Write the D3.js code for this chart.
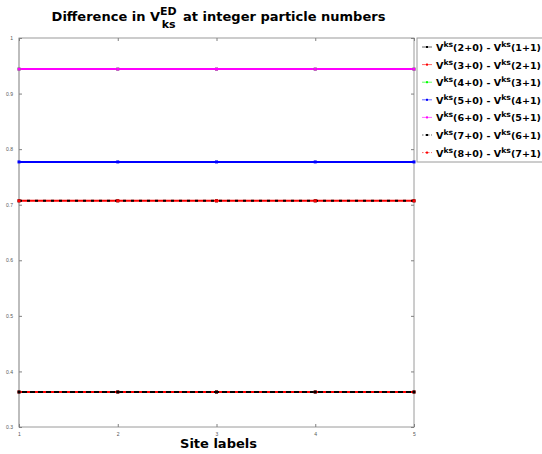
<!DOCTYPE html>
<html>
<head>
<meta charset="utf-8">
<script src="https://cdn.jsdelivr.net/npm/d3@7"></script>
<style>
  body { margin: 0; background: #fff; }
  svg { display: block; font-family: "DejaVu Sans", sans-serif; }
</style>
</head>
<body>
<div id="chart"></div>
<script>
// Site labels along x, one value per curve (flat lines across all sites)
var sites = [1, 2, 3, 4, 5];
var xTicks = [1, 2, 3, 4, 5];
var yTicks = [0.3, 0.4, 0.5, 0.6, 0.7, 0.8, 0.9, 1];
var seriesNames = ["(2+0)|(1+1)", "(3+0)|(2+1)", "(4+0)|(3+1)", "(5+0)|(4+1)",
                   "(6+0)|(5+1)", "(7+0)|(6+1)", "(8+0)|(7+1)"];
var seriesLevels = [0.363, 0.707, 0.944, 0.777, 0.944, 0.707, 0.363];
var seriesColors = ["#000000", "#ff0000", "#00ff00", "#0000ff", "#ff00ff", "#000000", "#ff0000"];
var seriesDashed = [false, false, false, false, false, true, true];

var width = 542, height = 454;
var margin = { top: 38, right: 128, bottom: 27, left: 19 };

var svg = d3.select("#chart").append("svg")
    .attr("width", width)
    .attr("height", height);

var x = d3.scaleLinear().domain([1, 5]).range([margin.left, width - margin.right]);
var y = d3.scaleLinear().domain([0.3, 1]).range([height - margin.bottom, margin.top]);

var x0 = x.range()[0], x1 = x.range()[1];
var y0 = y.range()[0], y1 = y.range()[1];

// frame
svg.append("rect")
    .attr("x", x0).attr("y", y1)
    .attr("width", x1 - x0).attr("height", y0 - y1)
    .attr("fill", "none").attr("stroke", "#9a9a9a").attr("stroke-width", 1);
svg.append("line")
    .attr("x1", x0).attr("x2", x0).attr("y1", y1).attr("y2", y0)
    .attr("stroke", "#bdbdbd").attr("stroke-width", 2);

// axes with inward ticks (bottom/left labelled, top/right mirrored)
function styleAxis(g) {
    g.select(".domain").remove();
    g.selectAll(".tick line").attr("stroke", "#808080");
    g.selectAll(".tick text").attr("fill", "#555").style("font-size", "5px");
}
svg.append("g")
    .attr("transform", "translate(0," + y0 + ")")
    .call(d3.axisBottom(x).tickValues(xTicks).tickFormat(d3.format("d")).tickSizeInner(-3).tickPadding(5))
    .call(styleAxis);
svg.append("g")
    .attr("transform", "translate(0," + y1 + ")")
    .call(d3.axisTop(x).tickValues(xTicks).tickFormat("").tickSizeInner(-3))
    .call(styleAxis);
svg.append("g")
    .attr("transform", "translate(" + x0 + ",0)")
    .call(d3.axisLeft(y).tickValues(yTicks).tickFormat(function (d) { return d === 1 ? "1" : d3.format(".1f")(d); }).tickSizeInner(-3).tickPadding(6))
    .call(styleAxis);
svg.append("g")
    .attr("transform", "translate(" + x1 + ",0)")
    .call(d3.axisRight(y).tickValues(yTicks).tickFormat("").tickSizeInner(-3))
    .call(styleAxis);

// series lines first, then markers (dashed series' markers underneath)
var line = d3.line().x(function (d) { return x(d.x); }).y(function (d) { return y(d.y); });
var allPts = seriesLevels.map(function (v) {
    return sites.map(function (s) { return { x: s, y: v }; });
});
allPts.forEach(function (pts, i) {
    svg.append("path")
        .datum(pts)
        .attr("d", line)
        .attr("fill", "none")
        .attr("stroke", seriesColors[i])
        .attr("stroke-width", 2)
        .attr("stroke-dasharray", seriesDashed[i] ? "3,5" : null);
});
var markerOrder = d3.range(allPts.length).sort(function (a, b) {
    return (seriesDashed[b] ? 1 : 0) - (seriesDashed[a] ? 1 : 0) || a - b;
});
markerOrder.forEach(function (i) {
    svg.append("g").selectAll("rect").data(allPts[i]).enter().append("rect")
        .attr("x", function (d) { return x(d.x) - 1.5; })
        .attr("y", function (d) { return y(d.y) - 1.5; })
        .attr("width", 3).attr("height", 3)
        .attr("fill", seriesColors[i]);
});

// title
var title = svg.append("text")
    .attr("x", (x0 + x1) / 2 + 2).attr("y", 21)
    .attr("text-anchor", "middle")
    .style("font-size", "13px").style("font-weight", "bold");
title.append("tspan").text("Difference in V");
title.append("tspan").attr("dy", -6).style("font-size", "11px").text("ED");
title.append("tspan").attr("dx", -15).attr("dy", 13).style("font-size", "11px").text("ks");
title.append("tspan").attr("dx", 3).attr("dy", -7).text(" at integer particle numbers");

svg.append("text")
    .attr("x", (x0 + x1) / 2 + 2).attr("y", 448)
    .attr("text-anchor", "middle")
    .style("font-size", "13px").style("font-weight", "bold")
    .text("Site labels");

// legend
var lg = svg.append("g").attr("transform", "translate(417," + y1 + ")");
lg.append("rect")
    .attr("x", 0).attr("y", 0).attr("width", 140).attr("height", 124)
    .attr("fill", "#fff").attr("stroke", "#9a9a9a");
seriesNames.forEach(function (name, i) {
    var parts = name.split("|");
    var row = lg.append("g").attr("transform", "translate(0," + (9 + i * 17.6) + ")");
    row.append("line")
        .attr("x1", 5).attr("x2", 15).attr("y1", 0).attr("y2", 0)
        .attr("stroke", seriesColors[i]).attr("stroke-width", 1).attr("stroke-opacity", 0.6)
        .attr("stroke-dasharray", seriesDashed[i] ? "1.5,1.5" : null);
    row.append("rect")
        .attr("x", 9).attr("y", -1).attr("width", 2).attr("height", 2)
        .attr("fill", seriesColors[i]);
    var t = row.append("text")
        .attr("x", 19).attr("y", 4)
        .style("font-size", "9.3px").style("font-weight", "bold")
        .attr("textLength", 105).attr("lengthAdjust", "spacingAndGlyphs");
    t.append("tspan").text("V");
    t.append("tspan").attr("dy", -4).style("font-size", "7.5px").text("ks");
    t.append("tspan").attr("dy", 4).text(parts[0] + " - V");
    t.append("tspan").attr("dy", -4).style("font-size", "7.5px").text("ks");
    t.append("tspan").attr("dy", 4).text(parts[1]);
});
</script>
</body>
</html>
